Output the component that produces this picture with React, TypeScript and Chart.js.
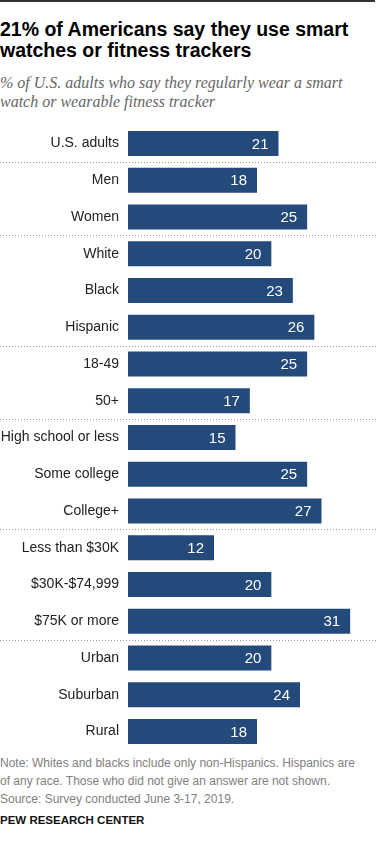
import React, { useEffect, useRef } from "react";
import { Chart, registerables } from "chart.js";

Chart.register(...registerables);

const TITLE_LINES = ["21% of Americans say they use smart", "watches or fitness trackers"];
const SUBTITLE_LINES = ["% of U.S. adults who say they regularly wear a smart", "watch or wearable fitness tracker"];
const CATEGORIES = [
  "U.S. adults",
  "Men",
  "Women",
  "White",
  "Black",
  "Hispanic",
  "18-49",
  "50+",
  "High school or less",
  "Some college",
  "College+",
  "Less than $30K",
  "$30K-$74,999",
  "$75K or more",
  "Urban",
  "Suburban",
  "Rural",
];
const VALUES = [21, 18, 25, 20, 23, 26, 25, 17, 15, 25, 27, 12, 20, 31, 20, 24, 18];
// indices after which a dotted group separator is drawn
const GROUP_ENDS = [0, 2, 5, 7, 10, 13];
const NOTE_LINES = [
  "Note: Whites and blacks include only non-Hispanics. Hispanics are",
  "of any race. Those who did not give an answer are not shown.",
  "Source: Survey conducted June 3-17, 2019.",
];
const SOURCE = "PEW RESEARCH CENTER";

const BAR_COLOR = "#234a7a";
const SANS = '"Liberation Sans", Arial, sans-serif';

const overlayPlugin = {
  id: "overlay",
  afterDatasetsDraw(chart: any) {
    const ctx = chart.ctx;
    const y = chart.scales.y;
    const left = chart.chartArea.left;
    ctx.save();
    // separators
    ctx.strokeStyle = "#9a9a9a";
    ctx.lineWidth = 1;
    ctx.setLineDash([1, 2]);
    GROUP_ENDS.forEach((i) => {
      const py = Math.round((y.getPixelForValue(i) + y.getPixelForValue(i + 1)) / 2) + 0.5;
      ctx.beginPath();
      ctx.moveTo(0, py);
      ctx.lineTo(376, py);
      ctx.stroke();
    });
    ctx.setLineDash([]);
    // category labels
    ctx.fillStyle = "#222";
    ctx.font = `14px ${SANS}`;
    ctx.textAlign = "right";
    ctx.textBaseline = "middle";
    CATEGORIES.forEach((c, i) => {
      ctx.fillText(c, left - 9, y.getPixelForValue(i));
    });
    // value labels
    const meta = chart.getDatasetMeta(0);
    ctx.fillStyle = "#ffffff";
    ctx.font = `15px ${SANS}`;
    meta.data.forEach((bar: any, i: number) => {
      ctx.fillText(String(VALUES[i]), bar.x - 10, bar.y + 1);
    });
    ctx.restore();
  },
};

function BarChart() {
  const ref = useRef<HTMLCanvasElement | null>(null);
  useEffect(() => {
    if (!ref.current) return;
    const chart = new Chart(ref.current, {
      type: "bar",
      data: {
        labels: CATEGORIES,
        datasets: [
          {
            data: VALUES,
            backgroundColor: BAR_COLOR,
            barPercentage: 0.68,
            categoryPercentage: 1,
          },
        ],
      },
      options: {
        indexAxis: "y",
        animation: false,
        responsive: false,
        devicePixelRatio: 1,
        layout: { padding: { left: 128, right: 0, top: 0, bottom: 0 } },
        plugins: { legend: { display: false }, tooltip: { enabled: false } },
        scales: {
          x: { display: false, min: 0, max: 36 },
          y: { display: false },
        },
      },
      plugins: [overlayPlugin],
    } as any);
    return () => chart.destroy();
  }, []);
  return <canvas ref={ref} width={386} height={625} style={{ position: "absolute", left: 0, top: 125 }} />;
}

export default function App() {
  useEffect(() => {
    document.body.style.margin = "0";
  }, []);
  return (
    <div style={{ position: "relative", width: 386, height: 844, background: "#fff", overflow: "hidden" }}>
      <div style={{ position: "absolute", left: 0, top: 0, width: 375, height: 1.5, background: "#333" }} />
      <div
        style={{
          position: "absolute",
          left: 0,
          top: 19,
          fontFamily: SANS,
          fontWeight: 700,
          fontSize: 19.5,
          lineHeight: "21px",
          color: "#000",
          whiteSpace: "nowrap",
        }}
      >
        {TITLE_LINES.map((t, i) => (
          <div key={i}>{t}</div>
        ))}
      </div>
      <div
        style={{
          position: "absolute",
          left: 0,
          top: 73,
          fontFamily: '"Liberation Serif", "Times New Roman", serif',
          fontStyle: "italic",
          fontSize: 16,
          lineHeight: "19px",
          color: "#666",
          whiteSpace: "nowrap",
        }}
      >
        {SUBTITLE_LINES.map((t, i) => (
          <div key={i}>{t}</div>
        ))}
      </div>
      <BarChart />
      <div
        style={{
          position: "absolute",
          left: 0,
          top: 754,
          fontFamily: SANS,
          fontSize: 12,
          lineHeight: "18px",
          color: "#808080",
          whiteSpace: "nowrap",
        }}
      >
        {NOTE_LINES.map((t, i) => (
          <div key={i}>{t}</div>
        ))}
      </div>
      <div
        style={{
          position: "absolute",
          left: 0,
          top: 813,
          fontFamily: SANS,
          fontWeight: 700,
          fontSize: 11.5,
          lineHeight: "14px",
          color: "#111",
          whiteSpace: "nowrap",
        }}
      >
        {SOURCE}
      </div>
    </div>
  );
}
